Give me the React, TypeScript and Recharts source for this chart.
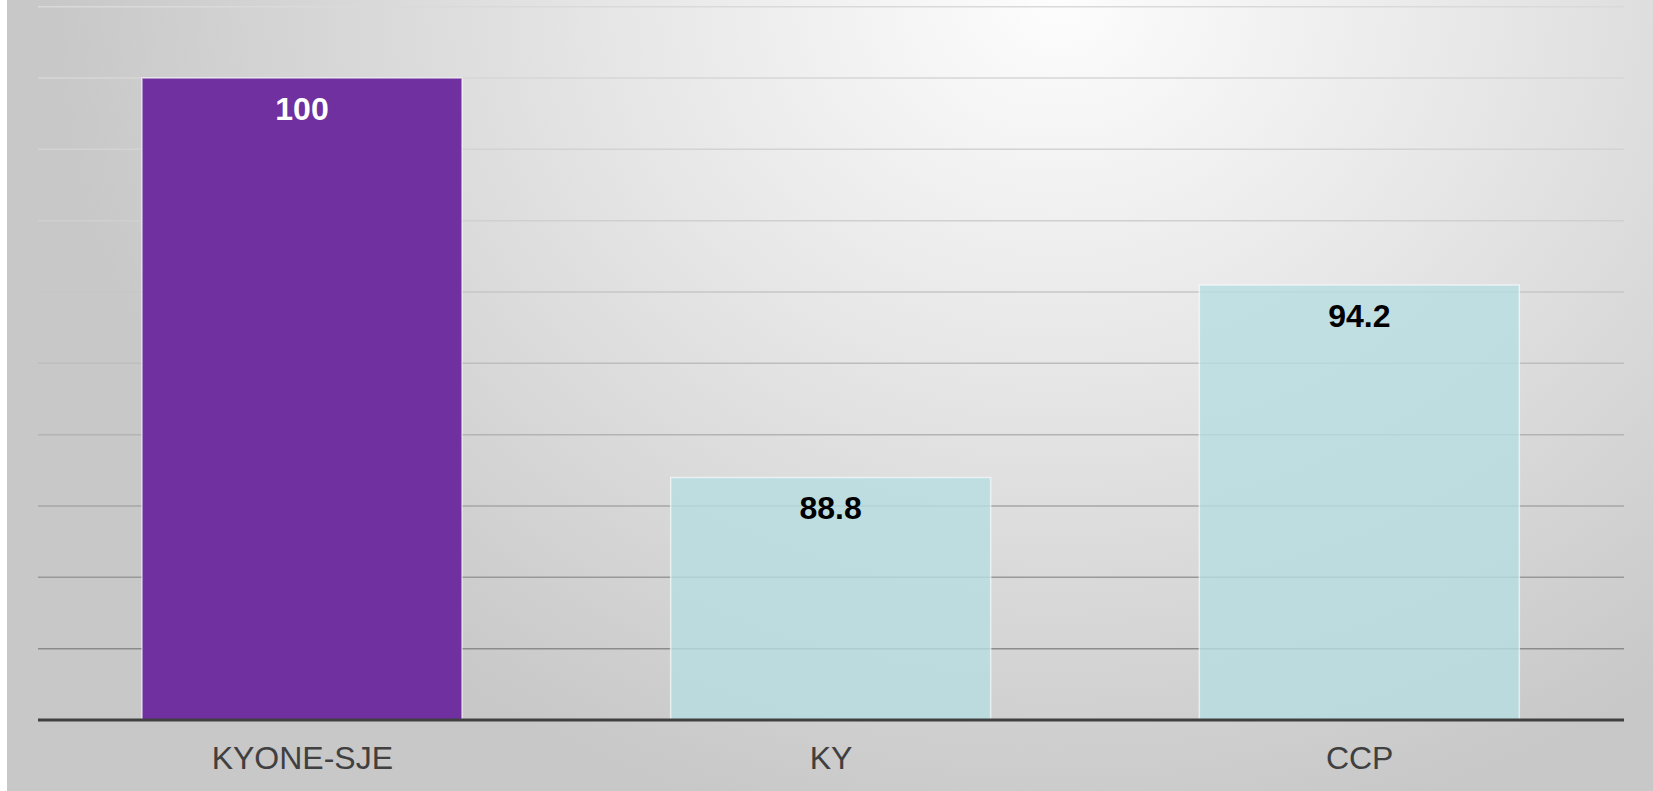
import React from 'react';
import { BarChart, Bar, XAxis, YAxis, CartesianGrid, Cell, LabelList } from 'recharts';

const categories: string[] = ['KYONE-SJE', 'KY', 'CCP'];
const scores: number[] = [100, 88.8, 94.2];
const yTicks: number[] = [82, 84, 86, 88, 90, 92, 94, 96, 98, 100, 102];
const barColors: string[] = ['#7030a0', '#b7dde2', '#b7dde2'];
const barOpacities: number[] = [1, 0.8, 0.8];
const labelColors: string[] = ['#ffffff', '#000000', '#000000'];

const data = categories.map((name, i) => ({ name, value: scores[i] }));

const FONT = '"Liberation Sans", Arial, Helvetica, sans-serif';

const ValueLabel = (props: any) => {
  const { x, y, width, value, index } = props;
  return (
    <text
      x={Number(x) + Number(width) / 2}
      y={Number(y) + 31}
      textAnchor="middle"
      dominantBaseline="central"
      fontFamily={FONT}
      fontSize={32}
      fontWeight="bold"
      fill={labelColors[index]}
    >
      {value}
    </text>
  );
};

export default function App() {
  return (
    <div
      style={{
        position: 'absolute',
        left: 7,
        top: 0,
        width: 1646,
        height: 791,
        background:
          'radial-gradient(ellipse 1000px 850px at 1050px 0px, #fdfdfd 0%, #e6e6e6 45%, #c8c8c8 100%)',
      }}
    >
      <BarChart
        width={1646}
        height={791}
        data={data}
        margin={{ top: 6.7, right: 29, bottom: 0, left: 31 }}
        barSize={320}
      >
        <defs>
          <linearGradient id="gridGrad" gradientUnits="userSpaceOnUse" x1="0" y1="0" x2="0" y2="720">
            <stop offset="0" stopColor="#dadada" />
            <stop offset="0.3" stopColor="#d0d0d0" />
            <stop offset="0.6" stopColor="#b4b4b4" />
            <stop offset="0.9" stopColor="#8c8c8c" />
            <stop offset="1" stopColor="#868686" />
          </linearGradient>
        </defs>
        <CartesianGrid vertical={false} stroke="url(#gridGrad)" strokeWidth={1.5} />
        <YAxis hide type="number" domain={[82, 102]} ticks={yTicks} />
        <XAxis
          dataKey="name"
          height={71}
          tickSize={0}
          tickMargin={26}
          tickLine={false}
          axisLine={{ stroke: '#404040', strokeWidth: 3 }}
          tick={{ fill: '#404040', fontSize: 32, fontFamily: FONT }}
        />
        <Bar dataKey="value" isAnimationActive={false} stroke="#ffffff" strokeOpacity={0.6} strokeWidth={1.5}>
          {data.map((d, i) => (
            <Cell key={d.name} fill={barColors[i]} fillOpacity={barOpacities[i]} />
          ))}
          <LabelList dataKey="value" content={ValueLabel} />
        </Bar>
      </BarChart>
    </div>
  );
}
